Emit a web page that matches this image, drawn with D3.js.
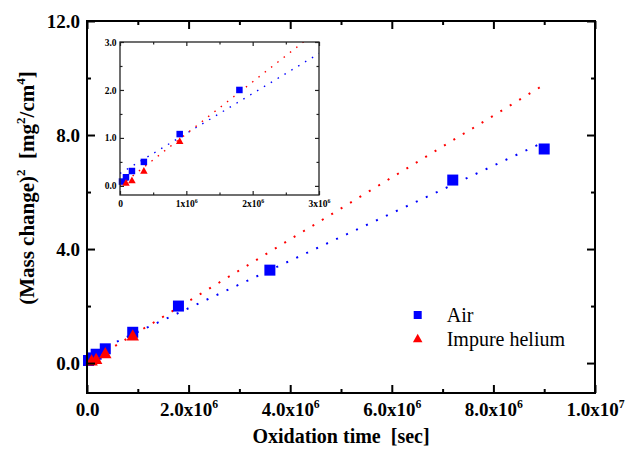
<!DOCTYPE html>
<html>
<head>
<meta charset="utf-8">
<script src="https://cdn.jsdelivr.net/npm/d3@7"></script>
<style>
  body { margin: 0; background: #fff; }
  svg { display: block; }
  svg text, svg tspan { font-family: "Liberation Serif", "Times New Roman", Times, serif !important; }
</style>
</head>
<body>
<svg id="chart" width="644" height="450"></svg>
<script>
// Oxidation kinetics: squared mass change vs. exposure time
const airTime    = [0.03e6, 0.09e6, 0.18e6, 0.36e6, 0.9e6, 1.8e6, 3.6e6, 7.2e6, 9.0e6];
const airGain2   = [0.09, 0.18, 0.31, 0.50, 1.08, 2.00, 3.26, 6.42, 7.51];
const heTime     = [0.09e6, 0.18e6, 0.36e6, 0.9e6];
const heGain2    = [0.05, 0.10, 0.30, 0.92];

// Parabolic-rate fits: [intercept, slope per second], drawn over fitRange
const airFit   = [0.26, 0.833e-6];
const heFit    = [0.0, 1.085e-6];
const fitRange = [0, 9.0e6];

const seriesNames = ["Air", "Impure helium"];

// Tick values and labels ("^{..}" marks a superscript)
const mainXTicks  = [0, 2e6, 4e6, 6e6, 8e6, 1e7];
const mainXLabels = ["0.0", "2.0x10^{6}", "4.0x10^{6}", "6.0x10^{6}", "8.0x10^{6}", "1.0x10^{7}"];
const mainXMinor  = [1e6, 3e6, 5e6, 7e6, 9e6];
const mainYTicks  = [0, 4, 8, 12];
const mainYLabels = ["0.0", "4.0", "8.0", "12.0"];
const mainYMinor  = [2, 6, 10];

const insetXTicks  = [0, 1e6, 2e6, 3e6];
const insetXLabels = ["0", "1x10^{6}", "2x10^{6}", "3x10^{6}"];
const insetXMinor  = [0.5e6, 1.5e6, 2.5e6];
const insetYTicks  = [0, 1, 2, 3];
const insetYLabels = ["0.0", "1.0", "2.0", "3.0"];
const insetYMinor  = [0.5, 1.5, 2.5];

const xTitle = "Oxidation time  [sec]";
const yTitle = "(Mass change)^{2}  [mg^{2}/cm^{4}]";

const BLUE = "#0000ff", RED = "#ff0000";

const svg = d3.select("#chart");

// Writes text with ^{..} superscripts as tspans
function rich(textSel, str, fs) {
  textSel.text(null).style("white-space", "pre");
  const re = /\^\{([^}]*)\}/g;
  let last = 0, m, raised = false;
  const supFs = fs * 0.62, lift = fs * 0.42;
  const plain = s => {
    const ts = textSel.append("tspan").text(s);
    if (raised) ts.attr("dy", lift);
    raised = false;
  };
  while ((m = re.exec(str)) !== null) {
    if (m.index > last) plain(str.slice(last, m.index));
    const ts = textSel.append("tspan").attr("font-size", supFs).text(m[1]);
    if (!raised) ts.attr("dy", -lift);
    raised = true;
    last = re.lastIndex;
  }
  if (last < str.length) plain(str.slice(last));
}

function fitPoints(fit) {
  return fitRange.map(t => ({ t, v: fit[0] + fit[1] * t }));
}

function trianglePath(cx, cy, w) {
  const h = w * 0.9;
  return `M${cx},${cy - h * 2 / 3}L${cx + w / 2},${cy + h / 3}L${cx - w / 2},${cy + h / 3}Z`;
}

function drawPanel(g, x, y, opt) {
  const [x0, x1] = x.range(), [y0, y1] = y.range();

  // fit lines
  const line = d3.line().x(d => x(d.t)).y(d => y(d.v));
  const clipId = "clip-" + opt.id;
  g.append("clipPath").attr("id", clipId)
    .append("rect").attr("x", x0).attr("y", y1).attr("width", x1 - x0).attr("height", y0 - y1);
  const lines = g.append("g").attr("clip-path", `url(#${clipId})`);
  [[airFit, BLUE], [heFit, RED]].forEach(([fit, col]) => {
    lines.append("path").attr("d", line(fitPoints(fit)))
      .attr("fill", "none").attr("stroke", col)
      .attr("stroke-width", opt.lineW).attr("stroke-dasharray", opt.dash);
  });

  // markers
  const inView = (t, v) => t <= x.domain()[1] && v <= y.domain()[1];
  const airPts = airTime.map((t, i) => ({ t, v: airGain2[i] })).filter(d => inView(d.t, d.v));
  const hePts = heTime.map((t, i) => ({ t, v: heGain2[i] })).filter(d => inView(d.t, d.v));
  g.append("g").selectAll("rect").data(airPts).join("rect")
    .attr("x", d => x(d.t) - opt.sq / 2).attr("y", d => y(d.v) - opt.sq / 2)
    .attr("width", opt.sq).attr("height", opt.sq).attr("fill", BLUE);
  g.append("g").selectAll("path").data(hePts).join("path")
    .attr("d", d => trianglePath(x(d.t), y(d.v), opt.tri)).attr("fill", RED);

  // axes with inward ticks
  const axisCol = opt.axisColor;
  const addAxis = (axis, tx, ty) => {
    const a = g.append("g").attr("transform", `translate(${tx},${ty})`).call(axis);
    a.select(".domain").remove();
    a.attr("font-family", null).attr("font-size", opt.fs).attr("font-weight", "bold");
    a.selectAll("line").attr("stroke", axisCol).attr("stroke-width", opt.tickW);
    return a;
  };
  const bottom = addAxis(d3.axisBottom(x).tickValues(opt.xt).tickSize(-opt.major).tickPadding(opt.xPad), 0, y0);
  bottom.selectAll("text").each(function (d, i) { rich(d3.select(this), opt.xl[i], opt.fs); });
  addAxis(d3.axisBottom(x).tickValues(opt.xm).tickSize(-opt.minor).tickFormat(""), 0, y0);
  addAxis(d3.axisTop(x).tickValues(opt.xt).tickSize(-opt.major).tickFormat(""), 0, y1);
  addAxis(d3.axisTop(x).tickValues(opt.xm).tickSize(-opt.minor).tickFormat(""), 0, y1);

  const left = addAxis(d3.axisLeft(y).tickValues(opt.yt).tickSize(-opt.major).tickPadding(opt.yPad), x0, 0);
  left.selectAll("text").each(function (d, i) { rich(d3.select(this), opt.yl[i], opt.fs); });
  addAxis(d3.axisLeft(y).tickValues(opt.ym).tickSize(-opt.minor).tickFormat(""), x0, 0);
  addAxis(d3.axisRight(y).tickValues(opt.yt).tickSize(-opt.major).tickFormat(""), x1, 0);
  addAxis(d3.axisRight(y).tickValues(opt.ym).tickSize(-opt.minor).tickFormat(""), x1, 0);

  g.selectAll(".tick text").attr("fill", "#000");

  g.append("rect").attr("x", x0).attr("y", y1).attr("width", x1 - x0).attr("height", y0 - y1)
    .attr("fill", "none").attr("stroke", axisCol).attr("stroke-width", opt.frameW);
}

// ---- main panel ----
const xMain = d3.scaleLinear([0, 1e7], [87, 595]);
const yMain = d3.scaleLinear([-1.05, 12], [393, 21]);
const main = svg.append("g");
drawPanel(main, xMain, yMain, {
  id: "main", lineW: 2, dash: "2,9", sq: 11, tri: 12.5,
  axisColor: "#000", tickW: 2, frameW: 2, major: 8, minor: 4,
  xt: mainXTicks, xl: mainXLabels, xm: mainXMinor,
  yt: mainYTicks, yl: mainYLabels, ym: mainYMinor,
  fs: 19, xPad: 9.5, yPad: 7
});

// ---- inset panel (white background hides the main fit lines) ----
const xIn = d3.scaleLinear([0, 3e6], [120, 319]);
const yIn = d3.scaleLinear([-0.19, 3], [195, 42]);
const inset = svg.append("g");
inset.append("rect").attr("x", 120).attr("y", 42).attr("width", 199).attr("height", 153).attr("fill", "#fff");
drawPanel(inset, xIn, yIn, {
  id: "inset", lineW: 1.4, dash: "1.5,6.5", sq: 6.5, tri: 7.5,
  axisColor: "#222", tickW: 1.2, frameW: 1.3, major: 4, minor: 2.5,
  xt: insetXTicks, xl: insetXLabels, xm: insetXMinor,
  yt: insetYTicks, yl: insetYLabels, ym: insetYMinor,
  fs: 9.5, xPad: 5.3, yPad: 3.5
});

// ---- axis titles ----
svg.append("text").attr("x", 341).attr("y", 443).attr("text-anchor", "middle")
  .attr("font-weight", "bold").attr("font-size", 20)
  .call(t => rich(t, xTitle, 20));
svg.append("text").attr("transform", "translate(34,188) rotate(-90)").attr("text-anchor", "middle")
  .attr("font-weight", "bold").attr("font-size", 21)
  .call(t => rich(t, yTitle, 21));

// ---- legend ----
const legend = svg.append("g");
legend.append("rect").attr("x", 413.7).attr("y", 311).attr("width", 8).attr("height", 8).attr("fill", BLUE);
legend.append("path").attr("d", trianglePath(417.7, 339.5, 9.5)).attr("fill", RED);
legend.selectAll("text").data(seriesNames).join("text")
  .attr("x", 446.7).attr("y", (d, i) => 321.7 + i * 24)
  .attr("font-size", 20).attr("font-weight", "normal").attr("fill", "#000").text(d => d);
</script>
</body>
</html>
